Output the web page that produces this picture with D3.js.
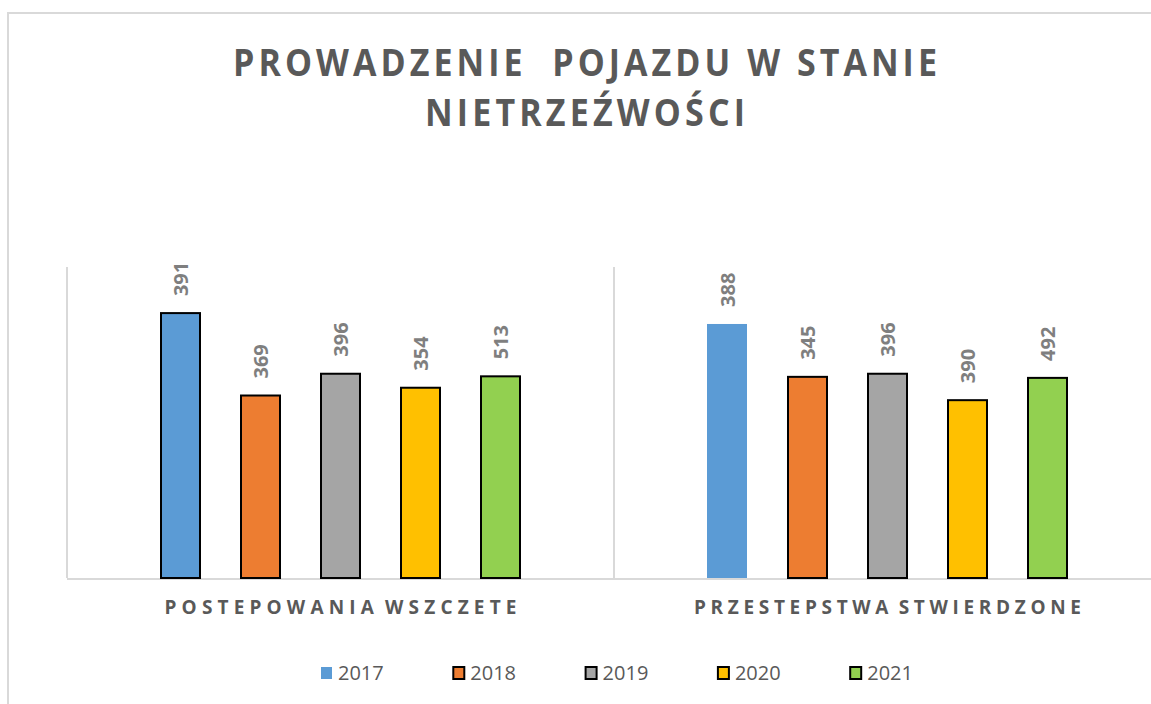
<!DOCTYPE html>
<html lang="pl">
<head>
<meta charset="utf-8" />
<script src="https://cdn.jsdelivr.net/npm/d3@7"></script>
<style>
  body { margin: 0; background: #fff; font-family: 'Open Sans', sans-serif; }
  .title { font-weight: bold; fill: #595959; font-size: 37px; white-space: pre; }
  .cat { font-weight: bold; fill: #595959; font-size: 19px; word-spacing: -4px; }
  .lbl { font-weight: bold; fill: #7f7f7f; font-size: 20px; }
  .leg { fill: #595959; font-size: 20px; }
</style>
</head>
<body>
<div id="chart"></div>
<script>
// data
var categories = ["POSTEPOWANIA WSZCZETE", "PRZESTEPSTWA STWIERDZONE"];
var years = ["2017", "2018", "2019", "2020", "2021"];
// bar heights as drawn
var postepowania = [513, 354, 396, 369, 391];
var przestepstwa = [492, 390, 396, 345, 388];
// the numbers printed above the bars (not in the same order as the heights)
var postepowaniaLabels = ["391", "369", "396", "354", "513"];
var przestepstwaLabels = ["388", "345", "396", "390", "492"];
var titleLines = ["PROWADZENIE  POJAZDU W STANIE", "NIETRZEŹWOŚCI"];

var width = 1151, height = 704;
var colors = d3.scaleOrdinal().domain(years)
  .range(["#5b9bd5", "#ed7d31", "#a5a5a5", "#ffc000", "#92d050"]);
var noOutline = { "PRZESTEPSTWA STWIERDZONE|2017": true };

var rows = [
  { cat: categories[0], values: postepowania, labels: postepowaniaLabels },
  { cat: categories[1], values: przestepstwa, labels: przestepstwaLabels }
];

var svg = d3.select('#chart').append('svg')
  .attr('width', width)
  .attr('height', height);

// outer frame
svg.append('rect')
  .attr('x', 8).attr('y', 13)
  .attr('width', 1300).attr('height', 900)
  .attr('fill', 'none')
  .attr('stroke', '#d9d9d9')
  .attr('stroke-width', 2);

// title - glyphs squeezed a bit, spacing opened up (like the condensed original)
var squeeze = 0.92;
var titleW = [704, 320];
svg.append('g')
  .attr('transform', 'translate(585,0) scale(' + squeeze + ',1)')
  .selectAll('.title').data(titleLines).enter()
  .append('text')
  .attr('class', 'title')
  .attr('x', 0)
  .attr('y', function(d, i) { return 76 + i * 50; })
  .attr('text-anchor', 'middle')
  .attr('textLength', function(d, i) { return titleW[i] / squeeze; })
  .attr('lengthAdjust', 'spacing')
  .text(function(d) { return d; });

var plotLeft = 67, plotRight = 1161, plotTop = 267, plotBottom = 578;

var x0 = d3.scaleBand().domain(categories).range([plotLeft, plotRight]);
var x1 = d3.scaleBand().domain(years).range([0, x0.bandwidth()])
  .paddingInner(0.4875).paddingOuter(1.1625);
var y = d3.scaleLinear().domain([0, 600]).range([plotBottom, plotTop]);

// category separators
var seps = [plotLeft].concat(categories.map(function(c) { return x0(c) + x0.bandwidth(); }));
svg.selectAll('.sep').data(seps).enter()
  .append('line')
  .attr('x1', function(d) { return d; }).attr('x2', function(d) { return d; })
  .attr('y1', plotTop).attr('y2', plotBottom)
  .attr('stroke', '#d9d9d9').attr('stroke-width', 2);

// baseline
svg.append('line')
  .attr('x1', plotLeft).attr('x2', plotRight)
  .attr('y1', plotBottom + 1).attr('y2', plotBottom + 1)
  .attr('stroke', '#d9d9d9').attr('stroke-width', 2);

var groups = svg.selectAll('.grp').data(rows).enter()
  .append('g')
  .attr('transform', function(d) { return 'translate(' + x0(d.cat) + ',0)'; });

var bars = groups.selectAll('g.bar')
  .data(function(r) {
    return years.map(function(yr, i) {
      return { cat: r.cat, year: yr, value: r.values[i], label: r.labels[i] };
    });
  })
  .enter().append('g').attr('class', 'bar');

bars.append('rect')
  .attr('x', function(d) { return noOutline[d.cat + '|' + d.year] ? x1(d.year) : x1(d.year) + 1; })
  .attr('width', function(d) { return noOutline[d.cat + '|' + d.year] ? x1.bandwidth() - 1 : x1.bandwidth() - 2; })
  .attr('y', function(d) { return y(d.value) + 1; })
  .attr('height', function(d) { return plotBottom - y(d.value) - 1; })
  .attr('fill', function(d) { return colors(d.year); })
  .attr('stroke', function(d) { return noOutline[d.cat + '|' + d.year] ? 'none' : '#000'; })
  .attr('stroke-width', 2);

bars.append('text')
  .attr('class', 'lbl')
  .attr('transform', function(d) {
    var cx = x1(d.year) + x1.bandwidth() / 2 + 7.5;
    return 'translate(' + cx + ',' + (y(d.value) - 16) + ') rotate(-90)';
  })
  .text(function(d) { return d.label; });

// category labels
var catW = [352, 387];
svg.selectAll('.cat').data(categories).enter()
  .append('text')
  .attr('class', 'cat')
  .attr('x', function(d) { return x0(d) + x0.bandwidth() / 2; })
  .attr('y', 614)
  .attr('text-anchor', 'middle')
  .attr('textLength', function(d, i) { return catW[i]; })
  .attr('lengthAdjust', 'spacing')
  .text(function(d) { return d; });

// legend
var legend = svg.selectAll('.legend').data(years).enter()
  .append('g')
  .attr('class', 'legend')
  .attr('transform', function(d, i) { return 'translate(' + (320 + i * 132.3) + ',666)'; });

legend.append('rect')
  .attr('x', 1).attr('y', 1)
  .attr('width', 11).attr('height', 12)
  .attr('fill', function(d) { return colors(d); })
  .attr('stroke', function(d, i) { return i === 0 ? 'none' : '#000'; })
  .attr('stroke-width', 2);

legend.append('text')
  .attr('class', 'leg')
  .attr('x', 18)
  .attr('y', 14)
  .text(function(d) { return d; });
</script>
</body>
</html>
